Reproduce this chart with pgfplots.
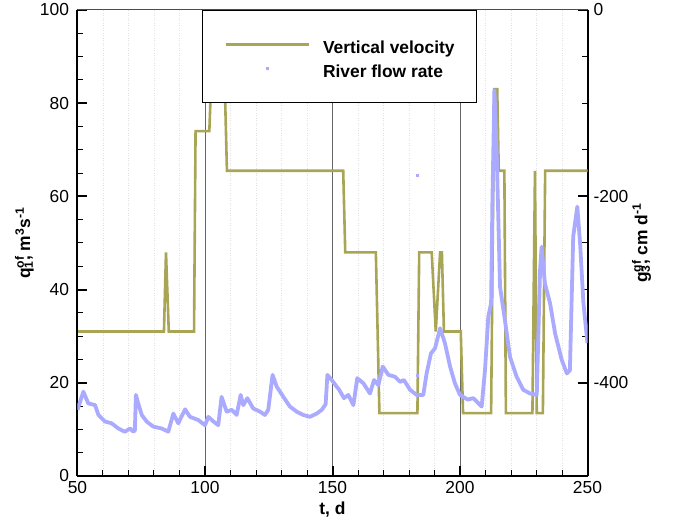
\documentclass[border=0pt]{standalone}
\usepackage{fontspec}
\setmainfont{Liberation Sans}
\usepackage{pgfplots}
\pgfplotsset{compat=1.18}
\usetikzlibrary{calc}
\definecolor{velgreen}{RGB}{168,165,85}
\definecolor{flowblue}{RGB}{170,170,255}
\newcommand{\labfont}{\fontsize{17.4}{20.9}\selectfont}
\begin{document}
\begin{tikzpicture}[font=\labfont]
\pgfplotsset{
  common/.style={
    scale only axis, width=510pt, height=466pt,
    xmin=50, xmax=250,
    tick align=inside,
    major tick length=10pt, minor tick length=5.5pt,
    major tick style={line width=2pt, black},
    minor tick style={line width=1pt, black},
    axis line style={line width=2pt, -},
    /pgf/number format/assume math mode=true,
  }
}
% right axis: vertical velocity, cm/d
\begin{axis}[common,
  axis x line*=bottom, axis y line*=right,
  ymin=-500, ymax=0, ytick={-400,-200,0}, minor y tick num=3,
  xtick={50,100,...,250}, minor x tick num=4,
  xmajorgrids, xminorgrids,
  major grid style={line width=1pt, black!60},
  minor grid style={line width=0.5pt, black!12, dotted},
  xticklabel style={yshift=-2pt},
  yticklabel style={xshift=2.5pt},
  xlabel={\bfseries t, d},
  xlabel style={at={(axis description cs:0.5,0)}, anchor=center, yshift=-34pt},
  ylabel={\bfseries g\rlap{\textsuperscript{gf}}\textsubscript{3}, cm d\textsuperscript{-1}},
  ylabel style={at={(axis description cs:1.106,0.5)}, anchor=center},
]
\addplot[velgreen, line width=2.6pt] coordinates {
(50,-345) (83.9,-345) (84.7,-260) (85.8,-345) (95.7,-345) (96.3,-130)
(101.7,-130) (102.3,-85) (107.8,-85) (108.6,-172.5) (154.2,-172.5)
(155,-260) (167,-260) (168.4,-432.5) (183.3,-432.5) (184,-260)
(188.9,-260) (190.5,-345) (192.2,-260) (192.9,-260) (193.7,-345)
(200.3,-345) (201.2,-432.5) (212.2,-432.5) (213.4,-85) (214.6,-85)
(215.2,-172.5) (217.4,-172.5) (218,-432.5) (228.4,-432.5) (229.4,-172.5)
(230.1,-432.5) (232.5,-432.5) (233.4,-172.5) (250,-172.5)
};
\coordinate (bl) at (rel axis cs:0,0);
\coordinate (tr) at (rel axis cs:1,1);
\end{axis}
% left axis: river flow rate, m3/s
\begin{axis}[common,
  axis y line*=left, hide x axis,
  ymin=0, ymax=100, ytick={0,20,...,100}, minor y tick num=3,
  yticklabel style={xshift=-5pt},
  ylabel={\bfseries q\rlap{\textsuperscript{of}}\textsubscript{1}, m\textsuperscript{3}s\textsuperscript{-1}},
  ylabel style={at={(axis description cs:-0.104,0.5)}, anchor=center},
  legend style={at={(axis description cs:0.244,1)}, anchor=north west,
    draw=black, line width=1pt, fill=white,
    inner xsep=22pt, inner ysep=21pt, row sep=-2pt, column sep=13pt,
    font=\labfont\bfseries, cells={anchor=west},
    nodes={inner sep=0pt, text height=22pt, text depth=4pt}},
  legend image code/.code={\draw[#1] (0pt,0pt) -- (83pt,0pt);},
]
\addlegendimage{velgreen, line width=2.6pt}
\addlegendentry{Vertical velocity}
\addplot[flowblue, line width=3.8pt, line join=round,
  legend image code/.code={\path[draw=none] (0pt,0pt) -- (83pt,0pt);
    \path[fill=flowblue, draw=none] (40pt,-1.5pt) rectangle (43pt,1.5pt);}] coordinates {
(50,14.2) (52.3,18.1) (54.2,15.6) (56.9,15.2) (58.2,13.1) (60.8,11.7)
(63.4,11.3) (66,10.2) (68.6,9.5) (70.6,10.2) (71.9,9.5) (72.5,9.8)
(72.9,17.4) (73.8,15.6) (75.2,13.1) (77.1,11.7) (79.7,10.6) (83,10.2)
(85.6,9.5) (87.6,13.4) (89.5,11.3) (92.2,14.3) (94.1,12.7) (97.4,12.0)
(100,10.9) (101.3,12.7) (103.3,11.7) (105.2,10.9) (106.5,17.0) (108.5,13.8)
(110.5,14.2) (112.4,13.1) (114,17.4) (115,15.2) (116.6,16.7) (118.9,14.5)
(121.6,13.8) (123.5,13.1) (124.8,14.2) (126.5,21.7) (128.1,19.2) (130.7,17.0)
(133.3,14.9) (136,13.8) (138.5,13.1) (141.2,12.7) (143.8,13.4) (145.8,14.2)
(147.3,15.4) (148,21.7) (149.7,20.6) (151.6,19.2) (152.5,18.6) (154.5,16.7)
(156.2,17.4) (158.2,15.2) (159.7,21.0) (162.1,19.9) (164.7,17.7) (166.3,20.6)
(168,19.5) (169.7,23.5) (171.9,21.7) (174.5,21.3) (176.5,20.2) (178,20.6)
(180.4,18.5) (183,17.4) (185.6,17.4) (186.9,22.0) (188.6,26.3) (190.2,27.4)
(192.2,31.7) (194.1,28.5) (196.1,23.5) (198,19.9) (200,17.4) (203,16.4)
(205.2,16.7) (208.5,14.9) (209.8,22.7) (211.1,34.2) (212.2,37.1) (212.7,58.5)
(213.5,82.8) (214.4,69.2) (215.7,40.6) (217.6,33.5) (219.6,25.6) (222.2,21.3)
(224.8,18.5) (227.5,17.7) (230.1,17.4) (231.4,44.2) (232,49.2) (233.3,41.3)
(235.3,37.1) (237.3,30.6) (239.9,24.9) (241.9,22.0) (243.1,22.7) (244.4,51.4)
(246,57.8) (247.1,49.9) (248.4,37.1) (250,28.5)
};
\addlegendentry{River flow rate}
\addplot[only marks, mark=square*, mark size=1.1pt, flowblue, forget plot]
  coordinates {(183.3,64.6) (183.3,21.7)};
\draw[line width=1pt, black!70] (rel axis cs:0,1) -- (rel axis cs:1,1);
\end{axis}
\pgfresetboundingbox
\path[use as bounding box] ($(bl)+(-77.5pt,-48pt)$) rectangle ($(tr)+(87.5pt,10pt)$);
\end{tikzpicture}
\end{document}
